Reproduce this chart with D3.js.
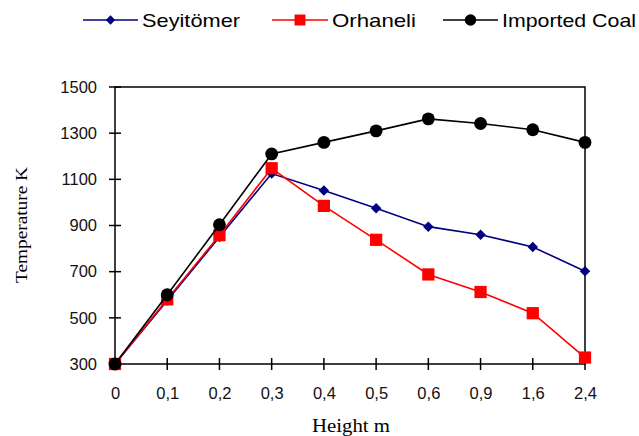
<!DOCTYPE html>
<html>
<head>
<meta charset="utf-8">
<script src="https://cdnjs.cloudflare.com/ajax/libs/d3/7.8.5/d3.min.js"></script>
<style>
body{margin:0;background:#fff;}
</style>
</head>
<body>
<div id="chart"></div>
<script>
// data
var heights = ["0","0,1","0,2","0,3","0,4","0,5","0,6","0,9","1,6","2,4"];
var seyitomer = [300,575,850,1125,1052,975,895,860,807,702];
var orhaneli = [300,580,858,1148,985,838,688,612,520,328];
var imported = [300,600,903,1210,1260,1310,1362,1342,1315,1260];
var yTicks = [300,500,700,900,1100,1300,1500];
var names = ["Seyitömer","Orhaneli","Imported Coal"];

var w=639,h=436;
var mLeft=115,mRight=585,mTop=87,mBottom=364;

var svg=d3.select("#chart").append("svg")
	.attr("width",w).attr("height",h);

var x=d3.scalePoint().domain(heights).range([mLeft,mRight]);
var y=d3.scaleLinear().domain([300,1500]).range([mBottom,mTop]);

// frame
svg.append("rect")
	.attr("x",mLeft).attr("y",mTop)
	.attr("width",mRight-mLeft).attr("height",mBottom-mTop)
	.attr("fill","none").attr("stroke","#000").attr("stroke-width",1.5);

// y axis
var yAxis=svg.append("g").attr("transform","translate("+mLeft+",0)")
	.call(d3.axisLeft(y).tickValues(yTicks).tickSize(0).tickPadding(18).tickFormat(d3.format("d")));
yAxis.select(".domain").remove();
yAxis.selectAll("text").attr("font-family","Liberation Sans, Arial").attr("font-size","16.5px").attr("fill","#111");
svg.selectAll(".ytick").data(yTicks).enter().append("line")
	.attr("x1",mLeft-6).attr("x2",mLeft+6)
	.attr("y1",function(d){return y(d);}).attr("y2",function(d){return y(d);})
	.attr("stroke","#000").attr("stroke-width",1.5);

// x axis
var xAxis=svg.append("g").attr("transform","translate(0,"+mBottom+")")
	.call(d3.axisBottom(x).tickSize(0).tickPadding(23));
xAxis.select(".domain").remove();
xAxis.selectAll("text").attr("font-family","Liberation Sans, Arial").attr("font-size","16.5px").attr("fill","#111");
svg.selectAll(".xtick").data(heights.slice(1)).enter().append("line")
	.attr("x1",function(d){return x(d);}).attr("x2",function(d){return x(d);})
	.attr("y1",mBottom-6).attr("y2",mBottom+6)
	.attr("stroke","#000").attr("stroke-width",1.5);

// axis titles
svg.append("text").text("Height m")
	.attr("x",351).attr("y",432)
	.attr("text-anchor","middle")
	.attr("textLength",78).attr("lengthAdjust","spacingAndGlyphs")
	.attr("font-family","Liberation Serif, Times New Roman").attr("font-size","18px");
svg.append("text").text("Temperature K")
	.attr("transform","translate(27,225) rotate(-90)")
	.attr("text-anchor","middle")
	.attr("textLength",116).attr("lengthAdjust","spacingAndGlyphs")
	.attr("font-family","Liberation Serif, Times New Roman").attr("font-size","17px");

var series=[
	{name:names[0],values:seyitomer,color:"#000080",shape:d3.symbolSquare,size:55,rot:45},
	{name:names[1],values:orhaneli,color:"#ff0000",shape:d3.symbolSquare,size:150,rot:0},
	{name:names[2],values:imported,color:"#000000",shape:d3.symbolCircle,size:130,rot:0}
];

var line=d3.line()
	.x(function(d,i){return x(heights[i]);})
	.y(function(d){return y(d);});

series.forEach(function(s){
	svg.append("path").datum(s.values)
		.attr("d",line).attr("fill","none")
		.attr("stroke",s.color).attr("stroke-width",1.6);
	svg.selectAll(null).data(s.values).enter().append("path")
		.attr("d",d3.symbol().type(s.shape).size(s.size))
		.attr("transform",function(d,i){return "translate("+x(heights[i])+","+y(d)+") rotate("+s.rot+")";})
		.attr("fill",s.color);
});

// legend
var legX=[83,272,443], legLen=[55,56,55], legTextW=[98,84,134];
series.forEach(function(s,i){
	var g=svg.append("g").attr("transform","translate("+legX[i]+",20)");
	g.append("line").attr("x1",0).attr("x2",legLen[i])
		.attr("y1",0).attr("y2",0)
		.attr("stroke",s.color).attr("stroke-width",1.6);
	g.append("path").attr("d",d3.symbol().type(s.shape).size(s.size*0.8))
		.attr("transform","translate("+(legLen[i]/2)+",0) rotate("+s.rot+")")
		.attr("fill",s.color);
	g.append("text").text(s.name)
		.attr("x",legLen[i]+4).attr("y",7)
		.attr("textLength",legTextW[i]).attr("lengthAdjust","spacingAndGlyphs")
		.attr("font-family","Liberation Sans, Arial").attr("font-size","19px");
});
</script>
</body>
</html>
